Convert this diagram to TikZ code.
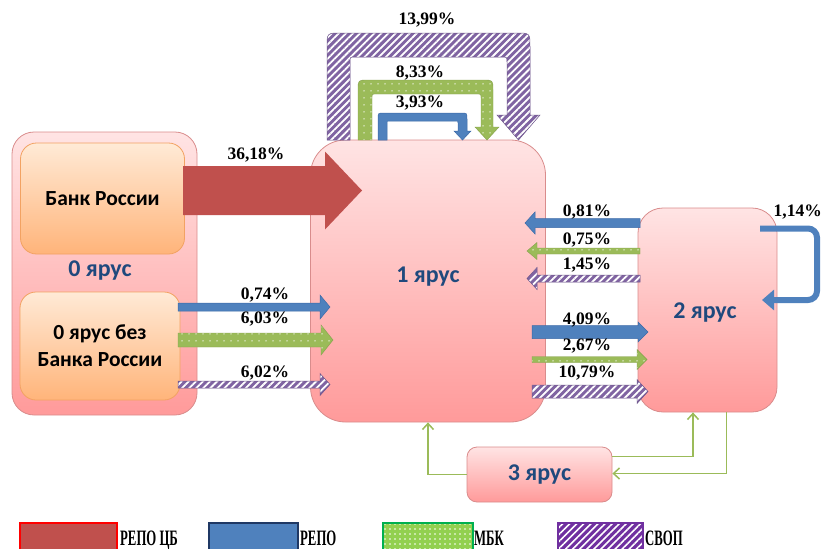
\documentclass[tikz,border=0pt]{standalone}
\usepackage{fontspec}
\setmainfont{Carlito}
\newfontfamily\pctfont{Liberation Serif}
\newfontfamily\legfont[FakeStretch=0.58]{Liberation Serif}
\usetikzlibrary{arrows.meta,patterns.meta}
\definecolor{redA}{HTML}{C0504D}
\definecolor{blueA}{HTML}{4F81BD}
\definecolor{blueB}{HTML}{3C6AA8}
\definecolor{greenA}{HTML}{9BBB59}
\definecolor{purpA}{HTML}{8064A2}
\definecolor{pinkT}{HTML}{FFE4E4}
\definecolor{pinkB}{HTML}{FF9A9A}
\definecolor{pinkD}{HTML}{D98C8C}
\definecolor{orT}{HTML}{FFEAD6}
\definecolor{orB}{HTML}{FFB47A}
\definecolor{orD}{HTML}{F2A262}
\definecolor{navy}{HTML}{1F497D}
\definecolor{legNavy}{HTML}{1F3864}
\definecolor{legGreen}{HTML}{92D050}
\definecolor{legGreenD}{HTML}{00B050}
\definecolor{legPurp}{HTML}{7030A0}
\newcommand\harr[7]{% style, x start, x tip, y centre, shaft half, head half, head length (signed)
  \path[#1] (#2,{#4-#5}) -- ({#3-(#7)},{#4-#5}) -- ({#3-(#7)},{#4-#6}) -- (#3,#4)
    -- ({#3-(#7)},{#4+#6}) -- ({#3-(#7)},{#4+#5}) -- (#2,{#4+#5}) -- cycle;}
\tikzset{
  tierbox/.style={rectangle, draw=pinkD, line width=0.8pt, top color=pinkT, bottom color=pinkB, inner sep=0pt},
  tiertext/.style={font=\fontsize{24}{28}\selectfont\bfseries, text=navy},
  orbox/.style={rectangle, draw=orD, line width=0.8pt, top color=orT, bottom color=orB, rounded corners=16pt,
    inner sep=0pt, font=\fontsize{21.5}{27}\selectfont\bfseries, align=center},
  pct/.style={font=\pctfont\fontsize{17.5}{20}\selectfont\bfseries, inner sep=0pt},
  arRed/.style={fill=redA},
  arBlue/.style={fill=blueA, draw=blueB, line width=0.5pt},
  arGreen/.style={preaction={fill=greenA}, pattern={Dots[radius=0.8pt,distance=6.5pt]}, pattern color=white!85!greenA,
    draw=greenA!85!black, line width=0.4pt},
  arPurp/.style={preaction={fill=purpA}, pattern={Lines[angle=45,distance=5pt,line width=1.8pt]}, pattern color=white,
    draw=purpA!85!black, line width=0.5pt},
  gline/.style={draw=greenA, line width=1.5pt, -{Straight Barb[length=6pt,width=11pt]}},
  legtext/.style={font=\legfont\fontsize{22}{26}\selectfont\bfseries, anchor=base west, inner sep=0pt},
}
\begin{document}
\begin{tikzpicture}[x=1pt,y=-1pt]
\useasboundingbox (0,0) rectangle (823,549);
% tier boxes
\node[tierbox, rounded corners=22pt, minimum width=185pt, minimum height=283pt] (z0) at (104.5,273.5) {};
\node[orbox, minimum width=164pt, minimum height=111pt] (bank) at (102.5,198.5) {Банк России};
\node[orbox, minimum width=160pt, minimum height=108pt] (z0b) at (100,346) {0 ярус без\\Банка России};
\node[tiertext] (z0t) at (100,271) {0 ярус};
\node[tierbox, rounded corners=35pt, minimum width=235pt, minimum height=282pt] (n1) at (428,281) {};
\node[tiertext] (n1t) at (428,277) {1 ярус};
\node[tierbox, rounded corners=25pt, minimum width=139pt, minimum height=204pt] (n2) at (707.5,310) {};
\node[tiertext] (n2t) at (705,313) {2 ярус};
\node[tierbox, rounded corners=10pt, minimum width=145pt, minimum height=55pt, tiertext] (n3) at (539.5,474.5) {3 ярус};
% green connectors
\draw[gline] (n3.west) -| (n1.south);
\draw[gline] ([yshift=18pt]n3.east) -| ([xshift=-14.5pt]n2.south);
\draw[gline] ([xshift=19pt]n2.south) |- ([yshift=1pt]n3.east);
% big red arrow
\harr{arRed}{183}{362}{190.5}{24.5}{39}{37}
% left lower arrows
\harr{arBlue}{178}{330}{307}{4}{12}{10}
\harr{arGreen}{178}{333}{340}{7}{15}{12}
\harr{arPurp}{178}{330}{384.5}{3.5}{11}{10}
% right upper arrows (to the left)
\harr{arBlue}{640}{525}{223}{4.5}{11}{-10}
\harr{arGreen}{640}{527}{251}{3}{8.5}{-10}
\harr{arPurp}{640}{527}{278.5}{3.5}{11}{-10}
% right lower arrows
\harr{arBlue}{532}{648}{332}{6.5}{10}{10}
\harr{arGreen}{532}{647}{359.5}{3}{10}{10}
\harr{arPurp}{532}{648}{391.5}{6.5}{12}{11}
% top loops
\path[arPurp] (327,140) -- (327,47) .. controls (327,33) .. (341,33) -- (516,33) .. controls (530,33) .. (530,47)
  -- (530,115) -- (540,115) -- (518.5,140) -- (497,115) -- (507,115) -- (507,62) .. controls (507,57) .. (502,57)
  -- (355,57) .. controls (350,57) .. (350,62) -- (350,140) -- cycle;
\path[arGreen] (358,140) -- (358,90) .. controls (358,80) .. (368,80) -- (483,80) .. controls (493,80) .. (493,90)
  -- (493,127) -- (499,127) -- (487,140) -- (475,127) -- (481,127) -- (481,98) .. controls (481,94) .. (477,94)
  -- (376,94) .. controls (372,94) .. (372,98) -- (372,140) -- cycle;
\path[arBlue] (378,140) -- (378,119) .. controls (378,113) .. (384,113) -- (461,113) .. controls (467,113) .. (467,119)
  -- (467,131) -- (471,131) -- (462.5,140) -- (454,131) -- (458,131) -- (458,123) .. controls (458,121) .. (456,121)
  -- (389,121) .. controls (387,121) .. (387,123) -- (387,140) -- cycle;
% self loop on tier 2
\coordinate (s1) at (760,228.5);
\coordinate (s2) at (817,228.5);
\coordinate (s3) at (817,300);
\coordinate (s4) at (762,300);
\draw[draw=blueA, line width=6pt, rounded corners=9pt, -{Triangle[length=12pt,width=20pt]}] (s1) -- (s2) -- (s3) -- (s4);
% percentage labels
\node[pct] (p1) at (427,20) {13,99\%};
\node[pct] (p2) at (420,73) {8,33\%};
\node[pct] (p3) at (420,103) {3,93\%};
\node[pct] (p4) at (256,155) {36,18\%};
\node[pct] (p5) at (265,295) {0,74\%};
\node[pct] (p6) at (265,319) {6,03\%};
\node[pct] (p7) at (265,373) {6,02\%};
\node[pct] (p8) at (587,212) {0,81\%};
\node[pct] (p9) at (587,240) {0,75\%};
\node[pct] (p10) at (587,265) {1,45\%};
\node[pct] (p11) at (587,320) {4,09\%};
\node[pct] (p12) at (587,346) {2,67\%};
\node[pct] (p13) at (587,373) {10,79\%};
\node[pct, anchor=east] (p14) at (822,212) {1,14\%};
% legend
\node[draw=red, line width=1.5pt, fill=redA, minimum width=97pt, minimum height=34pt, inner sep=0pt] (lg1) at (68.5,540) {};
\node[legtext] (lt1) at (120,545.5) {РЕПО ЦБ};
\node[draw=legNavy, line width=2pt, fill=blueA, minimum width=89pt, minimum height=34pt, inner sep=0pt] (lg2) at (253.5,540) {};
\node[legtext] (lt2) at (300,545.5) {РЕПО};
\node[draw=legGreenD, line width=1.5pt, preaction={fill=legGreen}, pattern={Dots[radius=0.8pt,distance=5pt]}, pattern color=white,
  minimum width=90pt, minimum height=34pt, inner sep=0pt] (lg3) at (428,540) {};
\node[legtext] (lt3) at (474,545.5) {МБК};
\node[draw=legPurp, line width=1.5pt, preaction={fill=legPurp}, pattern={Lines[angle=45,distance=5pt,line width=1.6pt]}, pattern color=white,
  minimum width=85pt, minimum height=34pt, inner sep=0pt] (lg4) at (600.5,540) {};
\node[legtext] (lt4) at (645,545.5) {СВОП};
\end{tikzpicture}
\end{document}
